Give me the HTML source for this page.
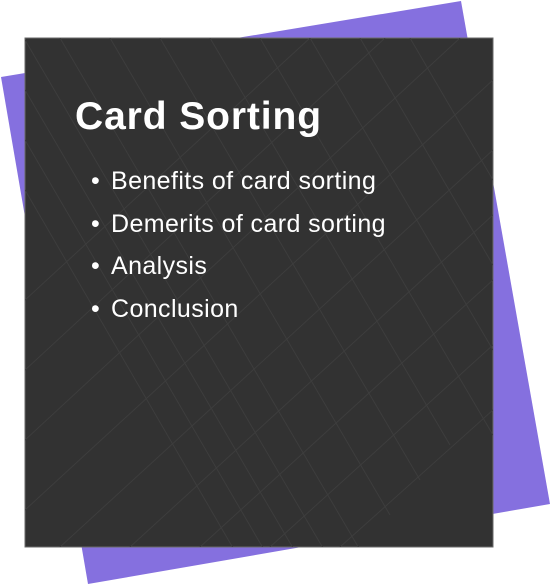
<!DOCTYPE html>
<html><head><meta charset="utf-8"><style>
html,body{margin:0;padding:0;background:#fff;}
body{width:550px;height:584px;position:relative;overflow:hidden;font-family:"Liberation Sans",sans-serif;}
svg{position:absolute;left:0;top:0;}
.t{position:absolute;color:#fff;white-space:nowrap;}
.li{position:relative;height:42.5px;}
.li span.d{position:absolute;left:3px;}
.li span.x{position:absolute;left:23px;}
</style></head><body>
<svg width="550" height="584" viewBox="0 0 550 584">
<defs><clipPath id="c"><rect x="25" y="38" width="468" height="509"/></clipPath></defs>
<polygon points="1,77 461,1 550,504 88,584" fill="#8570df"/>
<rect x="25" y="38" width="468" height="509" fill="#323232" stroke="#6a6a6a" stroke-width="1"/>
<g clip-path="url(#c)" stroke="#3d3d3d" stroke-width="1" fill="none">
<line x1="25" y1="40" x2="330" y2="560"/>
<line x1="25" y1="90" x2="300" y2="560"/>
<line x1="25" y1="140" x2="270" y2="560"/>
<line x1="25" y1="190" x2="240" y2="560"/>
<line x1="60" y1="38" x2="360" y2="550"/>
<line x1="110" y1="38" x2="390" y2="515"/>
<line x1="160" y1="38" x2="420" y2="480"/>
<line x1="210" y1="38" x2="450" y2="445"/>
<line x1="260" y1="38" x2="493" y2="435"/>
<line x1="310" y1="38" x2="493" y2="350"/>
<line x1="360" y1="38" x2="493" y2="265"/>
<line x1="410" y1="38" x2="493" y2="180"/>
<line x1="25" y1="510" x2="493" y2="80"/>
<line x1="25" y1="440" x2="460" y2="38"/>
<line x1="25" y1="370" x2="385" y2="38"/>
<line x1="25" y1="300" x2="310" y2="38"/>
<line x1="60" y1="547" x2="493" y2="150"/>
<line x1="130" y1="547" x2="493" y2="215"/>
<line x1="200" y1="547" x2="493" y2="280"/>
<line x1="270" y1="547" x2="493" y2="345"/>
<line x1="340" y1="547" x2="493" y2="410"/>
</g>
</svg>
<div class="t" style="left:75px;top:95px;font-size:39px;font-weight:bold;letter-spacing:0.9px;">Card Sorting</div>
<div class="t" style="left:88px;top:160px;font-size:25px;line-height:42.5px;letter-spacing:0.4px;width:400px;">
<div class="li"><span class="d">•</span><span class="x">Benefits of card sorting</span></div>
<div class="li"><span class="d">•</span><span class="x">Demerits of card sorting</span></div>
<div class="li"><span class="d">•</span><span class="x">Analysis</span></div>
<div class="li"><span class="d">•</span><span class="x">Conclusion</span></div>
</div>
</body></html>
